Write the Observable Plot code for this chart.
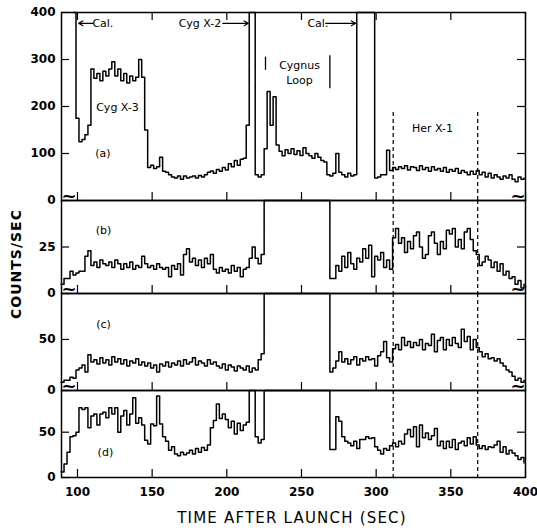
<!DOCTYPE html>
<html><head><meta charset="utf-8">
<script src="https://cdn.jsdelivr.net/npm/d3@7"></script>
<script src="https://cdn.jsdelivr.net/npm/@observablehq/plot@0.6"></script>
<style>
body{margin:0;background:#fff;}
#wrap{position:relative;width:537px;height:531px;font-family:"DejaVu Sans",sans-serif;color:#000;}
#wrap svg{display:block;overflow:visible;}
#wrap svg g[aria-label="y-axis tick label"], #wrap svg g[aria-label="x-axis tick label"]{font-weight:bold;}
.ylab{position:absolute;left:16px;top:264px;transform:translate(-50%,-50%) rotate(-90deg);font-size:14px;font-weight:bold;white-space:nowrap;letter-spacing:1px;}
.xlab{position:absolute;left:292px;top:518px;transform:translate(-50%,-50%);font-size:15px;white-space:nowrap;letter-spacing:1.2px;}
</style></head>
<body><div id="wrap"></div>
<script>
// time bins (s after launch)
const timeSec = [
 89,91,93,95,97,99,101,103,105,107,
 109,111,113,115,117,119,121,123,125,127,
 129,131,133,135,137,139,141,143,145,147,
 149,151,153,155,157,159,161,163,165,167,
 169,171,173,175,177,179,181,183,185,187,
 189,191,193,195,197,199,201,203,205,207,
 209,211,213,215,217,219,221,223,225,227,
 229,231,233,235,237,239,241,243,245,247,
 249,251,253,255,257,259,261,263,265,267,
 269,271,273,275,277,279,281,283,285,287,
 289,291,293,295,297,299,301,303,305,307,
 309,311,313,315,317,319,321,323,325,327,
 329,331,333,335,337,339,341,343,345,347,
 349,351,353,355,357,359,361,363,365,367,
 369,371,373,375,377,379,381,383,385,387,
 389,391,393,395,397,399];

// (a) counts/sec (off-scale values held at the top of the panel)
const countsA = [
 null,null,null,null,400,175,125,130,140,160,
 280,260,270,255,275,265,280,295,265,280,
 255,270,250,265,255,262,300,262,150,70,
 75,68,72,92,62,60,55,50,48,52,
 45,52,48,50,52,48,53,50,55,60,
 63,58,66,62,70,65,78,72,85,75,
 88,90,160,400,400,55,50,55,110,232,
 160,221,118,105,95,108,100,110,98,106,
 96,112,100,95,90,100,92,85,82,55,
 52,58,100,60,55,50,58,52,55,400,
 400,400,400,400,400,48,50,55,55,107,
 64,70,66,72,68,74,65,72,70,64,
 74,66,70,62,72,65,68,62,70,60,
 66,62,68,58,64,60,55,62,56,64,
 55,60,50,58,48,55,50,45,52,48,
 55,45,40,50,45,48];

const countsB = [
 5,8,8,12,10,11,12,12,20,23,
 15,17,14,18,16,15,17,14,18,16,
 13,16,14,17,13,15,14,20,16,14,
 15,13,16,14,13,14,9,15,13,16,
 10,21,24,17,19,15,18,14,19,16,
 21,13,11,14,12,13,11,15,12,14,
 9,13,14,19,25,19,16,21,50,50,
 50,50,50,50,50,50,50,50,50,50,
 50,50,50,50,50,50,50,50,50,50,
 8,8,15,12,20,14,22,16,13,19,
 17,24,19,26,9,20,18,22,14,18,
 13,30,35,27,30,22,28,24,31,33,
 25,19,21,31,33,27,21,28,24,34,
 32,35,25,29,24,33,35,29,23,21,
 15,17,20,18,14,17,12,16,10,12,
 8,9,5,7,3,5];

const countsC = [
 8,10,10,13,12,20,22,25,18,35,
 28,30,26,32,27,30,25,33,28,31,
 26,30,24,29,27,31,25,28,24,27,
 22,25,18,26,24,28,23,27,25,29,
 24,30,26,28,32,25,29,27,24,30,
 26,28,24,22,26,20,25,23,19,24,
 22,20,24,18,22,20,30,36,95,95,
 95,95,95,95,95,95,95,95,95,95,
 95,95,95,95,95,95,95,95,95,95,
 18,22,29,38,28,31,26,30,33,25,
 31,29,33,30,31,24,34,38,48,32,
 28,41,45,40,52,44,48,42,47,44,
 50,40,46,44,55,38,49,52,40,50,
 44,52,46,42,60,48,53,40,50,42,
 38,33,36,31,32,29,31,27,24,20,
 18,14,10,12,8,10];

const countsD = [
 6,15,28,45,46,50,77,75,77,55,
 68,70,58,70,72,66,77,70,77,50,
 68,74,58,70,88,60,66,58,41,37,
 59,57,90,59,45,40,30,34,26,24,
 28,25,27,30,26,32,28,33,30,36,
 55,63,81,65,70,64,55,62,48,60,
 52,58,61,96,96,45,38,42,96,96,
 96,96,96,96,96,96,96,96,96,96,
 96,96,96,96,96,96,96,96,96,96,
 31,31,67,62,45,40,38,35,40,32,
 42,42,45,43,44,34,30,26,32,30,
 35,38,34,40,37,48,53,45,56,34,
 58,44,49,42,46,54,35,40,32,40,
 33,42,31,38,40,35,44,37,45,36,
 32,35,31,34,33,36,40,28,34,26,
 30,27,24,20,22,16];

const xTicks = [100,150,200,250,300,350,400];
const yTicksA = [0,100,200,300,400];
const yTicksB = [0,25];
const yTicksC = [0,50];
const yTicksD = [0,50];
const herX1Bounds = [311.4,368];

const annA = [
 {t:117,v:377,label:"Cal."},
 {t:182,v:377,label:"Cyg X-2"},
 {t:261,v:377,label:"Cal."},
 {t:248.7,v:287,label:"Cygnus"},
 {t:248.7,v:255,label:"Loop"},
 {t:126.8,v:198,label:"Cyg X-3"},
 {t:117,v:100,label:"(a)"},
 {t:337.7,v:153,label:"Her X-1"}
];
const arrowsA = [
 {t1:110.5,t2:100.8,v:377},
 {t1:197.3,t2:214.4,v:377},
 {t1:266.2,t2:286.2,v:377}
];
const loopBars = [{t:225.9,lo:277,hi:305},{t:269,lo:238,hi:308}];
const annB = [{t:117.4,v:34,label:"(b)"}];
const annC = [{t:117.4,v:65,label:"(c)"}];
const annD = [{t:118.7,v:27.6,label:"(d)"}];

const W = 537, ML = 61, MR = 12, FW = W - ML - MR;

function panel({counts, yMax, yTicks, rightTicks, height, mt = 0, mb = 0, extra = [], xAxis = false, topTicks = false, tilde = true}) {
  const H = height - mt - mb;
  const data = timeSec.map((t, i) => ({t, v: counts[i]}));
  const marks = [
    Plot.ruleX(xTicks, {insetTop: H - 8, stroke: "black", strokeWidth: 1.2}),
    ...(topTicks ? [Plot.ruleX(xTicks, {insetBottom: H - 8, stroke: "black", strokeWidth: 1.2})] : []),
    Plot.ruleY(yTicks, {insetRight: FW - 8, stroke: "black", strokeWidth: 1.2}),
    Plot.ruleY(rightTicks, {insetLeft: FW - 8, stroke: "black", strokeWidth: 1.2}),
    ...extra,
    Plot.line(data, {x: "t", y: "v", curve: "step-after", stroke: "black", strokeWidth: 1.5}),
    Plot.frame({stroke: "black", strokeWidth: 1.5})
  ];
  if (tilde) {
    marks.push(Plot.text(["~"], {frameAnchor: "bottom-left", text: d => d, fontSize: 18, fontWeight: "bold", dy: 1}));
    marks.push(Plot.text(["~"], {frameAnchor: "bottom-right", text: d => d, fontSize: 18, fontWeight: "bold", dy: 1}));
  }
  return Plot.plot({
    width: W, height, marginLeft: ML, marginRight: MR, marginTop: mt, marginBottom: mb,
    style: {fontFamily: "DejaVu Sans", fontSize: "12px", color: "black", background: "transparent", overflow: "visible"},
    x: {domain: [89.3, 400], ticks: xTicks, tickSize: 0, tickPadding: 10, label: null, axis: xAxis ? "bottom" : null},
    y: {domain: [0, yMax], ticks: yTicks, tickSize: 0, tickPadding: 6, label: null},
    marks
  });
}

const txt = (arr, anchor = "middle") => Plot.text(arr, {x: "t", y: "v", text: "label", textAnchor: anchor, fontSize: 11, fill: "black"});
const dashFull = Plot.ruleX(herX1Bounds, {stroke: "black", strokeWidth: 1.2, strokeDasharray: "4,3"});

const wrap = document.getElementById("wrap");
wrap.appendChild(panel({
  counts: countsA, yMax: 400, yTicks: yTicksA, rightTicks: [100,200,300], height: 200, mt: 12, topTicks: true,
  extra: [
    Plot.ruleX(herX1Bounds, {y1: 0, y2: 191, stroke: "black", strokeWidth: 1.2, strokeDasharray: "4,3"}),
    Plot.ruleX(loopBars, {x: "t", y1: "lo", y2: "hi", stroke: "black", strokeWidth: 1.3}),
    Plot.arrow(arrowsA, {x1: "t1", x2: "t2", y1: "v", y2: "v", headLength: 6, strokeWidth: 1.2, stroke: "black"}),
    txt(annA)
  ]
}));
wrap.appendChild(panel({counts: countsB, yMax: 50, yTicks: yTicksB, rightTicks: [25], height: 93, extra: [dashFull, txt(annB)]}));
wrap.appendChild(panel({counts: countsC, yMax: 95, yTicks: yTicksC, rightTicks: [50], height: 97, extra: [dashFull, txt(annC)]}));
wrap.appendChild(panel({counts: countsD, yMax: 96, yTicks: yTicksD, rightTicks: [50], height: 141, mb: 54, xAxis: true, tilde: false, extra: [dashFull, txt(annD)]}));

const yl = document.createElement("div"); yl.className = "ylab"; yl.textContent = "COUNTS/SEC"; wrap.appendChild(yl);
const xl = document.createElement("div"); xl.className = "xlab"; xl.textContent = "TIME AFTER LAUNCH (SEC)"; wrap.appendChild(xl);
</script></body></html>
